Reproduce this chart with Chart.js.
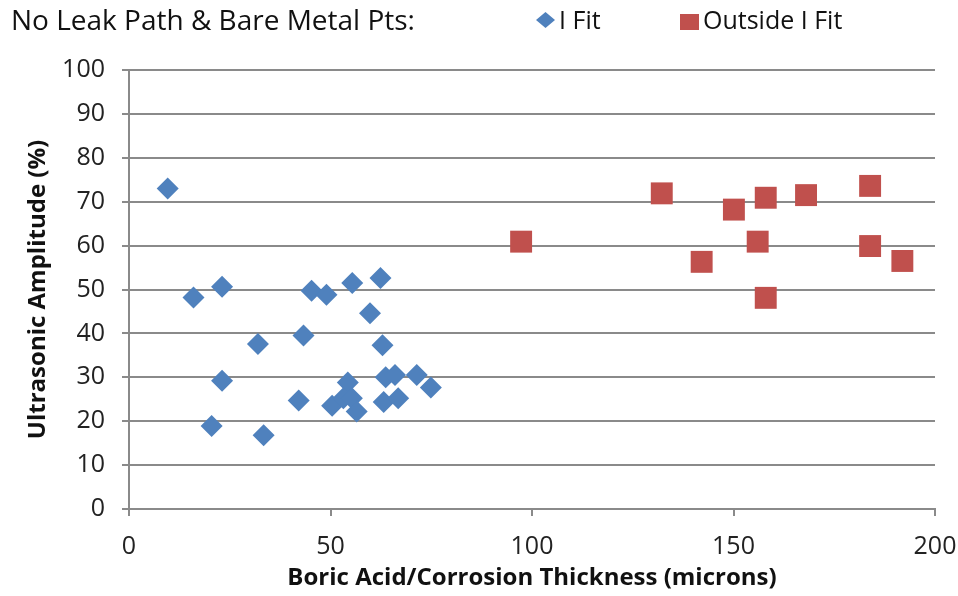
<!DOCTYPE html>
<html>

<head>
    <title>Ultrasonic Amplitude vs Thickness</title>
    <script src="https://cdn.jsdelivr.net/npm/chart.js"></script>
    <style>
        body {
            margin: 0;
            background: #fff;
        }

        #chartContainer {
            width: 958px;
            height: 596px;
        }
    </style>
</head>

<body>
    <div id="chartContainer">
        <canvas id="myChart" width="958" height="596"></canvas>
    </div>

    <script>
        // I Fit points (thickness in microns, amplitude in %)
        const iFitX = [9.6, 16.0, 23.1, 23.1, 20.5, 32.0, 33.4, 42.1, 43.3, 45.3, 49.0, 55.4, 62.4,
            59.8, 62.9, 50.4, 54.3, 53.2, 55.3, 56.5, 63.7, 66.0, 63.2, 66.8, 71.4, 74.9];
        const iFitY = [73.0, 48.2, 50.6, 29.2, 18.9, 37.6, 16.8, 24.7, 39.5, 49.7, 48.8, 51.5, 52.6,
            44.6, 37.3, 23.5, 28.8, 25.2, 25.2, 22.2, 30.0, 30.5, 24.4, 25.2, 30.5, 27.7];

        // Outside I Fit points
        const outsideX = [97.3, 132.2, 142.1, 150.1, 158.0, 156.0, 158.0, 168.0, 183.9, 183.9, 191.9];
        const outsideY = [60.9, 71.9, 56.3, 68.2, 70.9, 60.9, 48.1, 71.5, 73.6, 59.9, 56.5];

        const seriesNames = ['I Fit', 'Outside I Fit'];
        const headerText = 'No Leak Path & Bare Metal Pts:';

        const toPoints = (xs, ys) => xs.map((x, i) => ({ x: x, y: ys[i] }));

        const fontFamily = '"Open Sans", Lato, sans-serif';
        const blue = '#4F81BD';
        const red = '#C0504D';
        const gridColor = '#8a8a8a';

        // header line with the legend entries
        const headerLegend = {
            id: 'headerLegend',
            afterDraw(chart) {
                const ctx = chart.ctx;
                ctx.save();
                ctx.fillStyle = '#111';
                ctx.textBaseline = 'alphabetic';
                ctx.textAlign = 'left';
                ctx.font = '28px ' + fontFamily;
                ctx.fillText(headerText, 11, 30);

                ctx.font = '25px ' + fontFamily;
                // diamond
                ctx.fillStyle = blue;
                ctx.beginPath();
                ctx.moveTo(545.5, 12);
                ctx.lineTo(555, 20);
                ctx.lineTo(545.5, 28);
                ctx.lineTo(536, 20);
                ctx.closePath();
                ctx.fill();
                ctx.fillStyle = '#111';
                ctx.fillText(seriesNames[0], 559, 29);

                // square
                ctx.fillStyle = red;
                ctx.fillRect(680, 14, 19, 16);
                ctx.fillStyle = '#111';
                ctx.fillText(seriesNames[1], 703, 29);
                ctx.restore();
            }
        };

        const ctx = document.getElementById('myChart').getContext('2d');
        const myChart = new Chart(ctx, {
            type: 'scatter',
            data: {
                datasets: [{
                    label: seriesNames[0],
                    data: toPoints(iFitX, iFitY),
                    pointStyle: 'rectRot',
                    pointRadius: 11,
                    pointHoverRadius: 11,
                    backgroundColor: blue,
                    borderColor: blue,
                    borderWidth: 0
                }, {
                    label: seriesNames[1],
                    data: toPoints(outsideX, outsideY),
                    pointStyle: 'rect',
                    pointRadius: 15.5,
                    pointHoverRadius: 15.5,
                    backgroundColor: red,
                    borderColor: red,
                    borderWidth: 0
                }]
            },
            options: {
                responsive: false,
                animation: false,
                layout: {
                    padding: { top: 70, right: 23, bottom: 3, left: 24 }
                },
                plugins: {
                    legend: { display: false },
                    tooltip: { enabled: false }
                },
                scales: {
                    x: {
                        type: 'linear',
                        min: 0,
                        max: 200,
                        afterFit(scale) {
                            scale.height = 84;
                            scale.paddingLeft = 0;
                            scale.paddingRight = 0;
                        },
                        ticks: {
                            stepSize: 50,
                            color: '#222',
                            font: { family: fontFamily, size: 25 },
                            padding: 16
                        },
                        grid: {
                            drawOnChartArea: false,
                            drawTicks: true,
                            tickLength: 7,
                            color: gridColor,
                            lineWidth: 2
                        },
                        border: { color: gridColor, width: 2 },
                        title: {
                            display: true,
                            text: 'Boric Acid/Corrosion Thickness (microns)',
                            color: '#111',
                            font: { family: fontFamily, size: 24, weight: 'bold' },
                            padding: { top: 0, bottom: 0 }
                        }
                    },
                    y: {
                        min: 0,
                        max: 100,
                        afterFit(scale) {
                            scale.width = 105;
                            scale.paddingTop = 0;
                            scale.paddingBottom = 0;
                        },
                        ticks: {
                            stepSize: 10,
                            color: '#222',
                            font: { family: fontFamily, size: 25 },
                            padding: 17
                        },
                        grid: {
                            color: gridColor,
                            lineWidth: 2,
                            tickLength: 7
                        },
                        border: { color: gridColor, width: 2 },
                        title: {
                            display: true,
                            text: 'Ultrasonic Amplitude (%)',
                            color: '#111',
                            font: { family: fontFamily, size: 24, weight: 'bold' },
                            padding: { top: 0, bottom: 0 }
                        }
                    }
                }
            },
            plugins: [headerLegend]
        });
    </script>
</body>

</html>
